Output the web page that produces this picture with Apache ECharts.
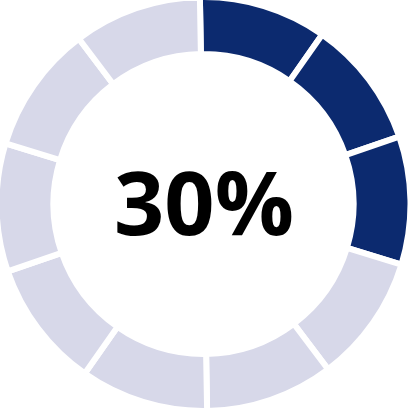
<!DOCTYPE html>
<html><head><meta charset="utf-8">
<script src="https://cdn.jsdelivr.net/npm/echarts@6/dist/echarts.min.js"></script>
<style>html,body{margin:0;padding:0;background:#fff}#c{width:408px;height:408px}</style>
</head><body><div id="c"></div>
<script>
const segments = ['1','2','3','4','5','6','7','8','9','10'];
const values = [1,1,1,1,1,1,1,1,1,1];
const filledCount = 3;
const label = '30%';
const chart = echarts.init(document.getElementById('c'), null, {renderer:'canvas'});
chart.setOption({
  animation:false,
  series:[{
    type:'pie',
    center:[203.5,204],
    radius:[150,207],
    startAngle:91,
    clockwise:true,
    silent:true,
    label:{show:false},
    labelLine:{show:false},
    itemStyle:{borderColor:'#fff',borderWidth:6},
    data: segments.map((s,i)=>({name:s,value:values[i],itemStyle:{color: i<filledCount ? '#0c2a6f' : '#d7d8e9'}}))
  }],
  graphic:[{
    type:'text',
    x:204,
    y:210,
    style:{text:label,font:'bold 88px "Open Sans"',fill:'#000',align:'center',verticalAlign:'middle'}
  }]
});
</script></body></html>
